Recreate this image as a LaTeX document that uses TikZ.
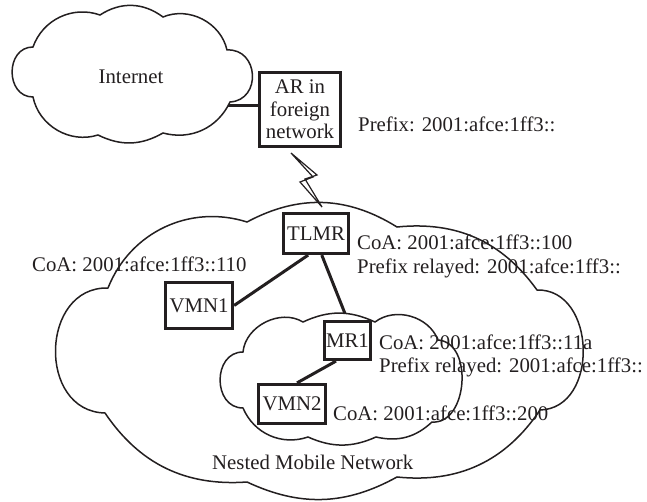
\documentclass[tikz,border=0pt]{standalone}
\usepackage{fontspec}
\setmainfont{Liberation Serif}
\definecolor{ink}{RGB}{35,31,32}
\begin{document}
\begin{tikzpicture}[x=1pt,y=-1pt,
  box/.style={draw=ink, fill=white, line width=3.2pt, inner sep=0pt, text=ink,
    font=\fontsize{20.8}{22.5}\selectfont},
  lbl/.style={anchor=base west, inner sep=0pt, text=ink, font=\fontsize{20.8}{24}\selectfont},
  link/.style={draw=ink, line width=3pt},
  cloudline/.style={draw=ink, line width=1.5pt},
  bolt/.style={draw=ink, line width=1.2pt, line join=miter}]
\useasboundingbox (0,0) rectangle (647,502);

% Internet cloud
\draw[cloudline] (33,47) to[bend left=45] (100,15) to[bend left=35] (163,17)
  to[bend left=50] (227,50) to[bend left=90,looseness=1.57] (230,102)
  to[bend left=40] (163,133) to[bend left=28] (98,135) to[bend left=48] (33,97)
  to[bend left=90,looseness=1.43] (33,47) -- cycle;
\node[anchor=base, inner sep=0pt, text=ink, font=\fontsize{20.8}{24}\selectfont] (inet) at (131,84) {Internet};

% Big (nested mobile network) cloud
\draw[cloudline] (108,288) to[bend left=43] (247,222) to[bend left=30] (397,227)
  to[bend left=30] (537,290) to[bend left=90,looseness=1.27] (540,410)
  to[bend left=31] (397,477) to[bend left=27] (247,482) to[bend left=30] (105,413)
  to[bend left=90,looseness=1.39] (108,288) -- cycle;

% Inner cloud
\draw[cloudline] (243,352) to[bend left=58] (303,322) to[bend left=25] (375,322)
  to[bend left=53] (438,340) to[bend left=90,looseness=1.12] (432,422)
  to[bend left=28] (376,437) to[bend left=24] (308,437) to[bend left=43] (243,408)
  to[bend left=90,looseness=1.4] (243,352) -- cycle;

% Boxes
\node[box, minimum width=81, minimum height=74, align=center] (ar) at (300,109.5) {AR in\\foreign\\network};
\node[box, minimum width=65, minimum height=40] (tlmr) at (316,233.5) {TLMR};
\node[box, minimum width=67, minimum height=46] (vmn1) at (199,305.5) {VMN1};
\node[box, minimum width=46, minimum height=38] (mr1) at (347.5,340.5) {MR1};
\node[box, minimum width=67, minimum height=39] (vmn2) at (292,404) {VMN2};

% Connectors
\coordinate (inetport) at (228,106);
\draw[link] (inetport) -- (inetport -| ar.west);
\draw[link] (tlmr.250) -- (vmn1.east);
\draw[link, shorten >=7pt] (tlmr.285) -- (mr1.north);
\draw[link] ([xshift=-11.5pt]mr1.south) -- ([xshift=5pt]vmn2.north);

% Wireless link (lightning)
\draw[bolt] (291,153) -- (317,175) -- (305,179) -- (322,207) -- (300,182) -- (313,177) -- cycle;

% Labels
\node[lbl] (arprefix) at (358,132) {Prefix: 2001:afce:1ff3::};
\node[lbl] (tlmrcoa) at (357,250) {CoA: 2001:afce:1ff3::100};
\node[lbl] (tlmrpre) at (357,274) {Prefix relayed: 2001:afce:1ff3::};
\node[lbl] (vmn1coa) at (32,272) {CoA: 2001:afce:1ff3::110};
\node[lbl] (mr1coa) at (379,349) {CoA: 2001:afce:1ff3::11a};
\node[lbl] (mr1pre) at (379,372) {Prefix relayed: 2001:afce:1ff3::};
\node[lbl] (vmn2coa) at (333,420) {CoA: 2001:afce:1ff3::200};
\node[lbl] (nested) at (212,469) {Nested Mobile Network};
\end{tikzpicture}
\end{document}
